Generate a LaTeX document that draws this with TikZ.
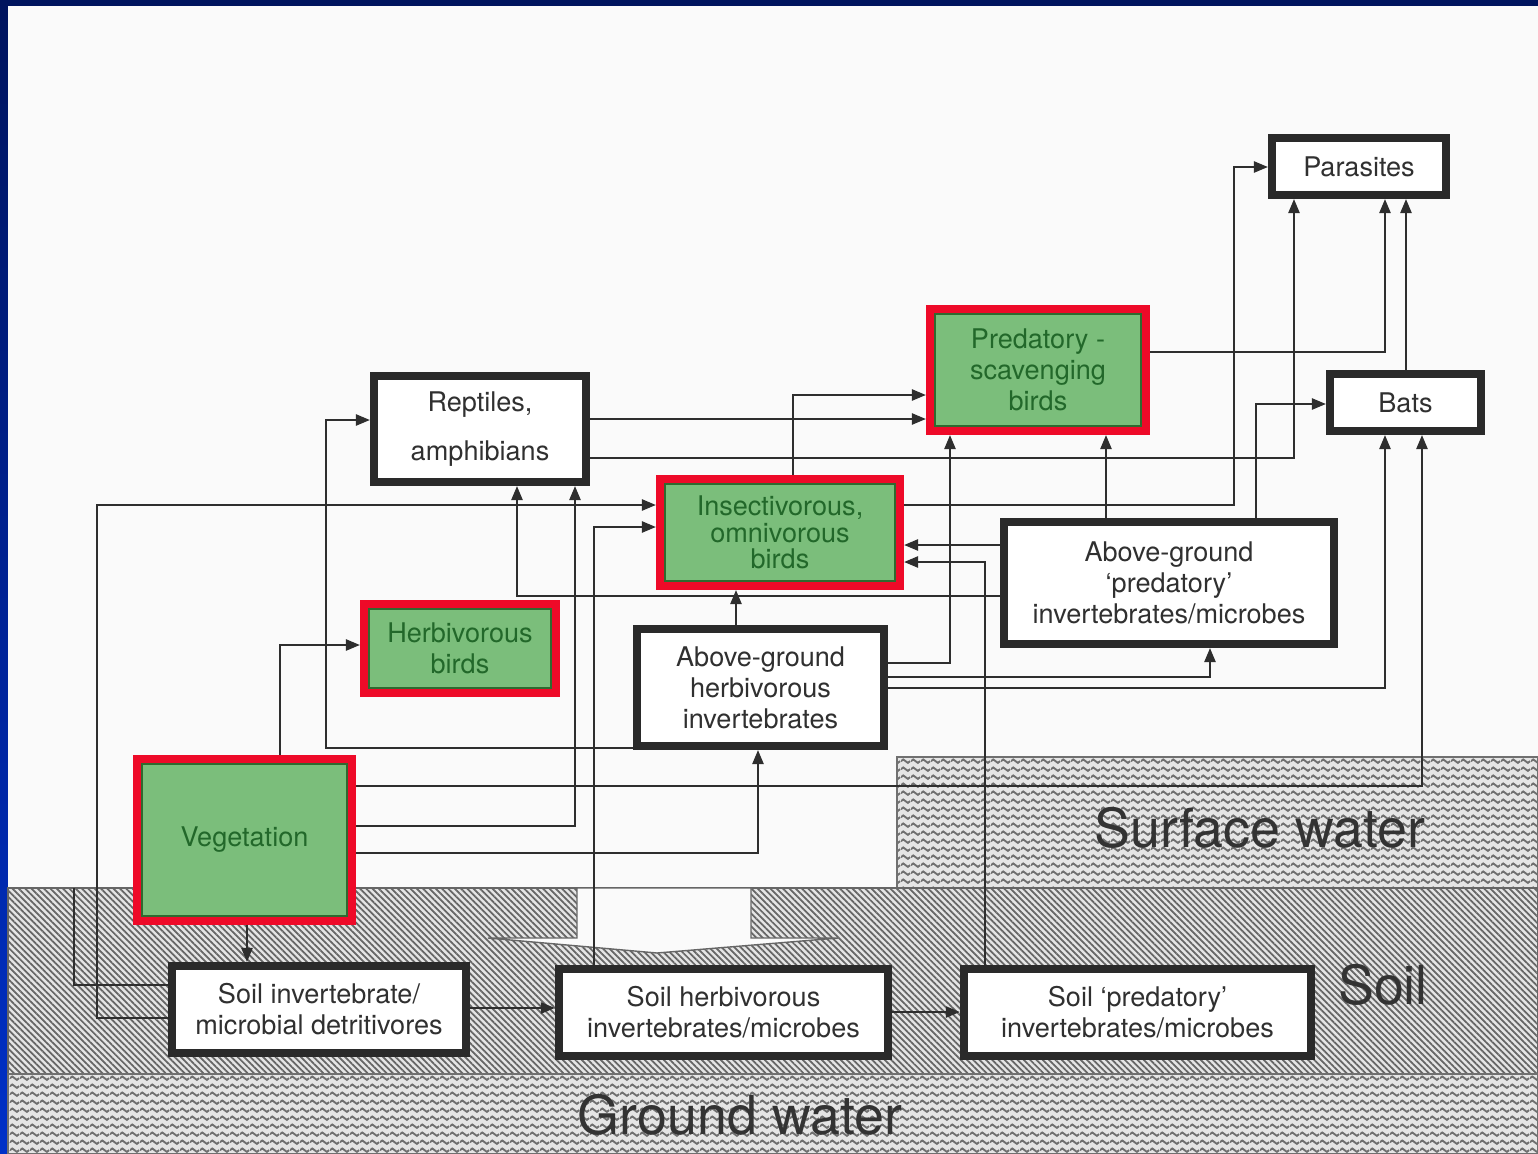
\documentclass[tikz,border=0pt]{standalone}
\usepackage{fontspec}
\setmainfont{TeX Gyre Heros}
\usetikzlibrary{arrows.meta,patterns.meta}
\definecolor{pagebg}{HTML}{FAFAFA}
\definecolor{navy}{HTML}{00145E}
\definecolor{frameblue}{HTML}{0030C8}
\definecolor{boxline}{HTML}{2A2A2A}
\definecolor{boxtext}{HTML}{303030}
\definecolor{birdfill}{HTML}{7BBE7B}
\definecolor{birdred}{HTML}{EE0A28}
\definecolor{birdline}{HTML}{2F6A2F}
\definecolor{birdtext}{HTML}{22682A}
\definecolor{linkgray}{HTML}{2E2E2E}
\definecolor{hatchgray}{HTML}{666666}
\definecolor{wavegray}{HTML}{707070}
\definecolor{strattext}{HTML}{333333}
\pgfdeclarepatternformonly{waves}{\pgfpoint{0pt}{0pt}}{\pgfpoint{2.85pt}{2.25pt}}{\pgfpoint{2.85pt}{2.25pt}}{
 \pgfsetlinewidth{0.55pt}
 \pgfpathmoveto{\pgfpoint{0pt}{1.1pt}}
 \pgfpathcurveto{\pgfpoint{0.5pt}{1.75pt}}{\pgfpoint{0.9pt}{1.75pt}}{\pgfpoint{1.425pt}{1.1pt}}
 \pgfpathcurveto{\pgfpoint{1.95pt}{0.45pt}}{\pgfpoint{2.35pt}{0.45pt}}{\pgfpoint{2.85pt}{1.1pt}}
 \pgfusepath{stroke}
}
\begin{document}
\begin{tikzpicture}[x=0.01cm,y=-0.01cm,
 box/.style ={draw=boxline, line width=2.3pt, fill=white, text=boxtext, align=center, inner sep=0pt, font=\fontsize{7.7}{8.8}\selectfont},
 bird/.style ={box, draw=birdred, fill=birdfill, text=birdtext,
  path picture={\draw[birdline, line width=0.5pt] ([shift={(1.5pt,-1.5pt)}]path picture bounding box.north west) rectangle ([shift={(-1.5pt,1.5pt)}]path picture bounding box.south east);}},
 link/.style ={-{Triangle[length=4pt,width=3.2pt]}, draw=linkgray, line width=0.55pt},
 feed/.style ={-, draw=linkgray, line width=0.55pt},
 water/.style ={preaction={fill=white!90!black}, pattern=waves, pattern color=wavegray, draw=wavegray, line width=0.4pt},
 soil/.style ={preaction={fill=white!90!black}, pattern={Lines[angle=-45,distance=1.27pt,line width=0.5pt]}, pattern color=hatchgray, draw=hatchgray, line width=0.5pt},
 stratum/.style ={text=strattext, inner sep=0pt, font=\fontsize{15.3}{18}\selectfont}
 ]
\useasboundingbox (0,0) rectangle (1538,1154);
%draw page and frame
\fill[pagebg] (0,0) rectangle (1538,1154);
\fill[navy] (0,0) rectangle (1538,6);
\shade[top color=navy, bottom color=frameblue] (0,0) rectangle (8,1154);
%draw strata
\draw[water] (897,757) rectangle (1538,888);
\draw[soil] (8,888) rectangle (1538,1074);
\draw[water] (8,1074) rectangle (1538,1154);
\filldraw[fill=pagebg, draw=hatchgray, line width=0.4pt] (577,888) -- (577,938) -- (488,938) -- (657,953) -- (838,938) -- (751,938) -- (751,888) -- cycle;
\node[stratum] (swlabel) at (1260,828) {Surface water};
\node[stratum] (soillabel) at (1383,985) {Soil};
\node[stratum] (gwlabel) at (740,1115) {Ground water};
%draw compartments
\node[box, minimum width=1.74cm, minimum height=0.57cm] (par) at (1359,166.5) {Parasites};
\node[bird, minimum width=2.16cm, minimum height=1.22cm] (pred) at (1038,370) {Predatory -\\scavenging\\birds};
\node[box, minimum width=1.51cm, minimum height=0.57cm] (bats) at (1405.5,402.5) {Bats};
\node[box, minimum width=2.12cm, minimum height=1.06cm] (rept) at (480,429) {Reptiles,\\[4.9pt]amphibians};
\node[bird, minimum width=2.40cm, minimum height=1.07cm, font=\fontsize{7.7}{7.5}\selectfont] (insect) at (780,532.5) {Insectivorous,\\omnivorous\\birds};
\node[box, minimum width=3.30cm, minimum height=1.22cm] (agp) at (1169,583) {Above-ground\\‘predatory’\\invertebrates/microbes};
\node[bird, minimum width=1.92cm, minimum height=0.89cm] (herb) at (460,648.5) {Herbivorous\\birds};
\node[box, minimum width=2.47cm, minimum height=1.17cm] (aghi) at (760.5,687.5) {Above-ground\\herbivorous\\invertebrates};
\node[bird, minimum width=2.15cm, minimum height=1.62cm] (veg) at (244.5,840) {Vegetation};
\node[box, minimum width=2.94cm, minimum height=0.87cm] (sdet) at (319,1009.5) {Soil invertebrate/\\microbial detritivores};
\node[box, minimum width=3.29cm, minimum height=0.87cm] (sherb) at (723.5,1012.5) {Soil herbivorous\\invertebrates/microbes};
\node[box, minimum width=3.47cm, minimum height=0.87cm] (spred) at (1137.5,1012.5) {Soil ‘predatory’\\invertebrates/microbes};
\coordinate (litter) at (74,888);
%draw links from vegetation
\draw[link] (veg.north -| 280,0) |- (herb.west |- 0,645);
\draw[link] (veg.east |- 0,786) -| (bats.south -| 1422,0);
\draw[link] (veg.east |- 0,826) -| (rept.south -| 575,0);
\draw[link] (veg.east |- 0,853) -| (aghi.south -| 758,0);
\draw[link] (veg.south -| 247,0) -- (sdet.north -| 247,0);
%draw links in the soil
\draw[feed] (litter) |- (sdet.west |- 0,985);
\draw[link] (sdet.west |- 0,1018) -| (97,505) -- (insect.west |- 0,505);
\draw[link] (sdet.east |- 0,1008) -- (sherb.west |- 0,1008);
\draw[link] (sherb.east |- 0,1012) -- (spred.west |- 0,1012);
\draw[link] (sherb.north -| 594,0) |- (insect.west |- 0,527);
\draw[link] (spred.north -| 985,0) |- (insect.east |- 0,562);
%draw links from above-ground invertebrates
\draw[link] (aghi.west |- 0,748) -| (326,420) -- (rept.west |- 0,420);
\draw[link] (aghi.north -| 736,0) -- (insect.south -| 736,0);
\draw[link] (aghi.east |- 0,663) -| (pred.south -| 950,0);
\draw[link] (aghi.east |- 0,677) -| (agp.south -| 1210,0);
\draw[link] (aghi.east |- 0,688) -| (bats.south -| 1385,0);
\draw[link] (agp.west |- 0,545) -- (insect.east |- 0,545);
\draw[link] (agp.west |- 0,596) -| (rept.south -| 517,0);
\draw[link] (agp.north -| 1106,0) -- (pred.south -| 1106,0);
\draw[link] (agp.north -| 1256,0) |- (bats.west |- 0,404);
%draw links to predators and parasites
\draw[link] (insect.north -| 793,0) |- (pred.west |- 0,395);
\draw[link] (rept.east |- 0,419) -- (pred.west |- 0,419);
\draw[link] (rept.east |- 0,458) -| (par.south -| 1294,0);
\draw[link] (insect.east |- 0,505) -| (1234,167) -- (par.west |- 0,167);
\draw[link] (pred.east |- 0,352) -| (par.south -| 1385,0);
\draw[link] (bats.north -| 1406,0) -- (par.south -| 1406,0);
\end{tikzpicture}
\end{document}
